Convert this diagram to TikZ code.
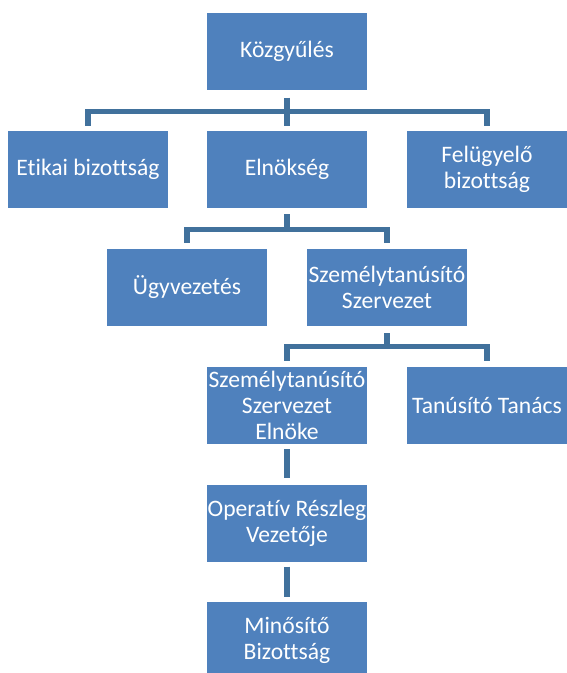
\documentclass[tikz,border=0pt]{standalone}
\usepackage{fontspec}
\setmainfont{Carlito}[Ligatures=NoCommon]
\definecolor{boxblue}{HTML}{4F81BD}
\definecolor{lineblue}{HTML}{41719C}
\begin{document}
\begin{tikzpicture}[x=1pt,y=-1pt,
  box/.style={fill=boxblue, minimum width=160pt, minimum height=77pt, inner sep=0pt,
    text=white, align=center, font=\fontsize{23.6}{26}\selectfont},
  conn/.style={draw=lineblue, line width=5.5pt}]
\clip (0,0) rectangle (567,673);
\node[box] (k)  at (287,51)    {Közgyűlés};
\node[box] (et) at (88,169.5)  {Etikai bizottság};
\node[box] (el) at (287,169.5) {Elnökség};
\node[box] (fe) at (487,169.5) {Felügyelő\\bizottság};
\node[box] (ug) at (187,287.5) {Ügyvezetés};
\node[box] (sz) at (387,287.5) {Személytanúsító\\Szervezet};
\node[box] (se) at (287,405.5) {Személytanúsító\\Szervezet\\Elnöke};
\node[box] (tt) at (487,405.5) {Tanúsító Tanács};
\node[box] (op) at (287,523)   {Operatív Részleg\\Vezetője};
\node[box] (mi) at (287,640.5) {Minősítő\\Bizottság};
\coordinate (j1) at (287,111.5);
\coordinate (j2) at (287,229.5);
\coordinate (j3) at (387,346.5);
% level 1
\draw[conn] ([yshift=-8pt]k.south) -- ([yshift=5pt]el.north);
\draw[conn] ([yshift=5pt]et.north) |- (j1) -| ([yshift=5pt]fe.north);
% level 2
\draw[conn] ([yshift=-6pt]el.south) -- (j2);
\draw[conn] ([yshift=6pt]ug.north) |- (j2) -| ([yshift=6pt]sz.north);
% level 3
\draw[conn] ([yshift=-7pt]sz.south) -- (j3);
\draw[conn] ([yshift=6pt]se.north) |- (j3) -| ([yshift=6pt]tt.north);
% chain
\draw[conn] ([yshift=-5pt]se.south) -- ([yshift=6pt]op.north);
\draw[conn] ([yshift=-5pt]op.south) -- ([yshift=5pt]mi.north);
\end{tikzpicture}
\end{document}
